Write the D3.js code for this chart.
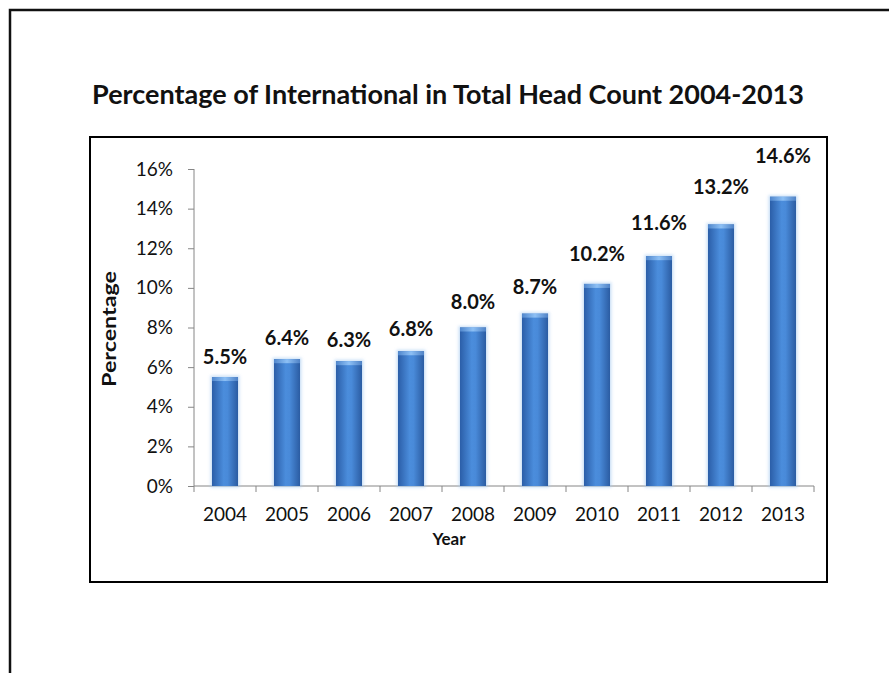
<!DOCTYPE html>
<html>
<head>
<meta charset="utf-8">
<script src="https://cdn.jsdelivr.net/npm/d3@7"></script>
<style>
  body { margin: 0; background: #fff; }
  svg { display: block; font-family: Lato, "Open Sans", sans-serif; }
</style>
</head>
<body>
<svg id="mySVG" width="889" height="673"></svg>
<script>
//---chart data---
var Years = ["2004", "2005", "2006", "2007", "2008", "2009", "2010", "2011", "2012", "2013"]
var IntlPct = [5.5, 6.4, 6.3, 6.8, 8.0, 8.7, 10.2, 11.6, 13.2, 14.6]
var YTicks = [0, 2, 4, 6, 8, 10, 12, 14, 16]
var TitleText = "Percentage of International in Total Head Count 2004-2013"

var MySVG
var PlotG
var X
var Y

function initChart()
{
    MySVG = d3.select("#mySVG")

    //---bar gradient: dark edges, light middle---
    var defs = MySVG.append("defs")
    var grad = defs.append("linearGradient")
    .attr("id", "barGrad")
    .attr("x1", "0").attr("y1", "0")
    .attr("x2", "1").attr("y2", "0")
    grad.append("stop").attr("offset", "0").attr("stop-color", "#2b5ea8")
    grad.append("stop").attr("offset", "0.45").attr("stop-color", "#4b8ddc")
    grad.append("stop").attr("offset", "0.6").attr("stop-color", "#498ad9")
    grad.append("stop").attr("offset", "1").attr("stop-color", "#2b5ca2")

    var capGrad = defs.append("linearGradient")
    .attr("id", "capGrad")
    .attr("x1", "0").attr("y1", "0")
    .attr("x2", "1").attr("y2", "0")
    capGrad.append("stop").attr("offset", "0").attr("stop-color", "#4f86cc")
    capGrad.append("stop").attr("offset", "0.5").attr("stop-color", "#8dc0f5")
    capGrad.append("stop").attr("offset", "1").attr("stop-color", "#4f82c6")

    var glow = defs.append("filter")
    .attr("id", "barGlow")
    .attr("x", "-50%").attr("y", "-20%")
    .attr("width", "200%").attr("height", "140%")
    glow.append("feGaussianBlur")
    .attr("in", "SourceGraphic")
    .attr("stdDeviation", 1.6)

    //---slide frame (runs off the right/bottom edge)---
    MySVG.append("rect")
    .attr("x", 10)
    .attr("y", 10)
    .attr("width", 1000)
    .attr("height", 1000)
    .attr("fill", "none")
    .attr("stroke", "#111")
    .attr("stroke-width", 2.5)

    //---slide title---
    MySVG.append("text")
    .attr("x", 448)
    .attr("y", 104)
    .attr("text-anchor", "middle")
    .attr("font-size", 27)
    .attr("font-weight", "bold")
    .attr("fill", "#111")
    .text(TitleText)

    //---chart box---
    MySVG.append("rect")
    .attr("x", 90)
    .attr("y", 137)
    .attr("width", 737)
    .attr("height", 445)
    .attr("fill", "#fff")
    .attr("stroke", "#000")
    .attr("stroke-width", 2)

    X = d3.scaleBand()
    .domain(Years)
    .range([194, 814])
    .paddingInner(0.58)
    .paddingOuter(0.29)

    Y = d3.scaleLinear()
    .domain([0, 16])
    .range([486, 169])

    PlotG = MySVG.append("g").attr("id", "plotG")

    drawAxes()
    drawBars()
    drawLabels()
}

function drawAxes()
{
    var axisCol = "#868686"
    var step = X.step()
    var x0 = X.range()[0]

    //---y axis---
    var yAxis = d3.axisLeft(Y)
    .tickValues(YTicks)
    .tickSize(6)
    .tickFormat(function(d){ return d + "%" })
    var yG = PlotG.append("g")
    .attr("transform", "translate(194,0)")
    .call(yAxis)
    yG.select(".domain").attr("stroke", axisCol).attr("d", "M0," + Y(16) + "V" + Y(0))
    yG.selectAll(".tick line").attr("stroke", axisCol)
    yG.selectAll(".tick text")
    .attr("x", -21)
    .attr("fill", "#111")
    .attr("font-size", 19)
    .attr("font-family", "Lato, sans-serif")

    //---x axis: ticks sit between categories---
    var xG = PlotG.append("g")
    .attr("transform", "translate(0," + Y(0) + ")")
    xG.append("line")
    .attr("x1", x0)
    .attr("x2", x0 + step * Years.length)
    .attr("stroke", axisCol)
    xG.selectAll("line.sep")
    .data(d3.range(Years.length + 1))
    .enter().append("line")
    .attr("class", "sep")
    .attr("x1", function(i){ return x0 + i * step })
    .attr("x2", function(i){ return x0 + i * step })
    .attr("y1", 0)
    .attr("y2", 6)
    .attr("stroke", axisCol)
    xG.selectAll("text.yr")
    .data(Years)
    .enter().append("text")
    .attr("class", "yr")
    .attr("x", function(d){ return X(d) + X.bandwidth() / 2 })
    .attr("y", 35)
    .attr("text-anchor", "middle")
    .attr("font-size", 19)
    .attr("fill", "#111")
    .text(function(d){ return d })

    //---axis titles---
    MySVG.append("text")
    .attr("x", 449)
    .attr("y", 545)
    .attr("text-anchor", "middle")
    .attr("font-size", 17)
    .attr("font-weight", "bold")
    .attr("fill", "#111")
    .text("Year")

    MySVG.append("text")
    .attr("transform", "translate(116,329) rotate(-90)")
    .attr("text-anchor", "middle")
    .attr("font-size", 18)
    .attr("font-weight", "bold")
    .attr("fill", "#111")
    .attr("textLength", 116)
    .attr("lengthAdjust", "spacingAndGlyphs")
    .text("Percentage")
}

function drawBars()
{
    var bw = X.bandwidth()
    var barG = PlotG.append("g").attr("id", "barG")

    //---soft light halo behind each bar---
    barG.selectAll("rect.halo")
    .data(IntlPct)
    .enter().append("rect")
    .attr("class", "halo")
    .attr("x", function(d, i){ return X(Years[i]) - 1.5 })
    .attr("y", function(d){ return Y(d) - 1.5 })
    .attr("width", bw + 3)
    .attr("height", function(d){ return Y(0) - Y(d) + 3 })
    .attr("fill", "#a9cdf2")
    .attr("opacity", 0.6)
    .attr("filter", "url(#barGlow)")

    barG.selectAll("rect.bar")
    .data(IntlPct)
    .enter().append("rect")
    .attr("class", "bar")
    .attr("x", function(d, i){ return X(Years[i]) })
    .attr("y", function(d){ return Y(d) })
    .attr("width", bw)
    .attr("height", function(d){ return Y(0) - Y(d) })
    .attr("fill", "url(#barGrad)")

    //---lighter bevel along the top---
    barG.selectAll("rect.cap")
    .data(IntlPct)
    .enter().append("rect")
    .attr("class", "cap")
    .attr("x", function(d, i){ return X(Years[i]) })
    .attr("y", function(d){ return Y(d) })
    .attr("width", bw)
    .attr("height", 4)
    .attr("fill", "url(#capGrad)")
}

function drawLabels()
{
    //---value labels float higher as the bars grow---
    PlotG.selectAll("text.val")
    .data(IntlPct)
    .enter().append("text")
    .attr("class", "val")
    .attr("x", function(d, i){ return X(Years[i]) + X.bandwidth() / 2 })
    .attr("y", function(d){ return Y(d * 1.115) })
    .attr("text-anchor", "middle")
    .attr("font-size", 20)
    .attr("font-weight", "bold")
    .attr("fill", "#111")
    .text(function(d){ return d.toFixed(1) + "%" })
}

initChart()
</script>
</body>
</html>
